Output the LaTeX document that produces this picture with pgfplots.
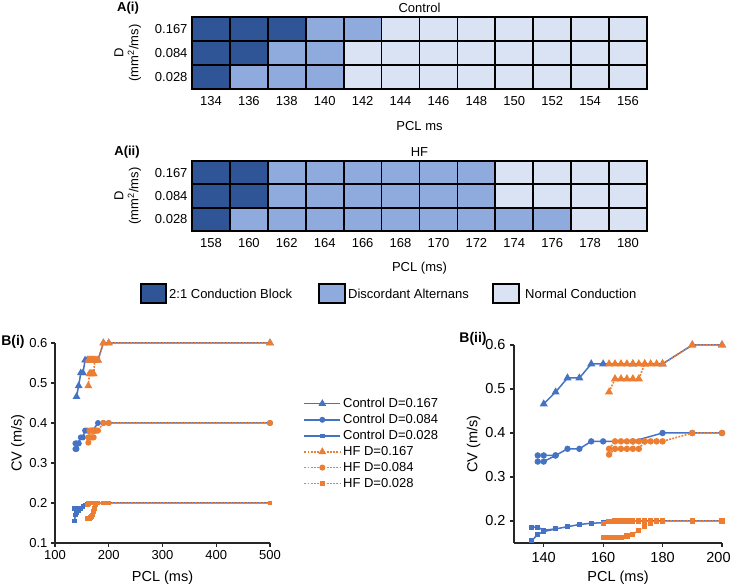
\documentclass[border=0pt]{standalone}
\usepackage{fontspec}
\setmainfont{Liberation Sans}
\usepackage{pgfplots}
\usepackage{pgfplotstable}
\pgfplotsset{compat=1.18}
\definecolor{cdark}{RGB}{47,85,151}
\definecolor{cmed}{RGB}{143,170,220}
\definecolor{clight}{RGB}{218,227,243}
\definecolor{cblue}{RGB}{68,114,196}
\definecolor{corange}{RGB}{237,125,49}
\newcommand\lf{\fontsize{13}{15}\selectfont}

% heatmap data: x = PCL index, y: 0 -> D=0.028, 1 -> 0.084, 2 -> 0.167
% c: 0 = 2:1 block, 1 = discordant alternans, 2 = normal
\pgfplotstableread{
x y c
0 0 0
1 0 1
2 0 1
3 0 1
4 0 2
5 0 2
6 0 2
7 0 2
8 0 2
9 0 2
10 0 2
11 0 2
0 1 0
1 1 0
2 1 1
3 1 1
4 1 2
5 1 2
6 1 2
7 1 2
8 1 2
9 1 2
10 1 2
11 1 2
0 2 0
1 2 0
2 2 0
3 2 1
4 2 1
5 2 2
6 2 2
7 2 2
8 2 2
9 2 2
10 2 2
11 2 2
}\ctrlmap
\pgfplotstableread{
x y c
0 0 0
1 0 1
2 0 1
3 0 1
4 0 1
5 0 1
6 0 1
7 0 1
8 0 1
9 0 1
10 0 2
11 0 2
0 1 0
1 1 0
2 1 1
3 1 1
4 1 1
5 1 1
6 1 1
7 1 1
8 1 2
9 1 2
10 1 2
11 1 2
0 2 0
1 2 0
2 2 1
3 2 1
4 2 1
5 2 1
6 2 1
7 2 1
8 2 2
9 2 2
10 2 2
11 2 2
}\hfmap

% CV restitution data
\pgfplotstableread{
x y
140 0.466
144 0.493
148 0.525
152 0.525
156 0.557
160 0.557
170 0.557
180 0.557
190 0.6
200 0.6
500 0.6
}\cA
\pgfplotstableread{
x y
138 0.349
140 0.349
144 0.349
148 0.364
152 0.364
156 0.381
160 0.381
170 0.381
180 0.4
190 0.4
200 0.4
500 0.4
}\cBa
\pgfplotstableread{
x y
138 0.335
140 0.335
144 0.349
}\cBb
\pgfplotstableread{
x y
136 0.186
138 0.186
140 0.179
144 0.182
148 0.187
152 0.192
156 0.195
160 0.196
170 0.2
180 0.2
190 0.2
200 0.2
500 0.2
}\cCa
\pgfplotstableread{
x y
136 0.155
138 0.170
140 0.176
144 0.182
}\cCb
\pgfplotstableread{
x y
162 0.557
164 0.557
166 0.557
168 0.557
170 0.557
172 0.557
174 0.557
176 0.557
178 0.557
180 0.557
190 0.6
200 0.6
500 0.6
}\hAa
\pgfplotstableread{
x y
162 0.493
164 0.523
166 0.523
168 0.523
170 0.523
172 0.523
174 0.557
}\hAb
\pgfplotstableread{
x y
162 0.364
164 0.381
166 0.381
168 0.381
170 0.381
172 0.381
174 0.381
176 0.381
178 0.381
180 0.381
190 0.4
200 0.4
500 0.4
}\hBa
\pgfplotstableread{
x y
162 0.351
164 0.364
166 0.364
168 0.364
170 0.364
172 0.364
174 0.381
}\hBb
\pgfplotstableread{
x y
160 0.195
162 0.199
164 0.2
166 0.2
168 0.2
170 0.2
172 0.2
174 0.2
176 0.2
178 0.2
180 0.2
190 0.2
200 0.2
500 0.2
}\hCa
\pgfplotstableread{
x y
160 0.162
162 0.162
164 0.162
166 0.163
168 0.166
170 0.170
172 0.179
174 0.187
176 0.195
178 0.2
}\hCb

\pgfplotsset{
  heat/.style={
    scale only axis, width=455pt, anchor=south west,
    xmin=-0.5, xmax=11.5, ymin=-0.5, ymax=2.5, enlargelimits=false,
    colormap={hm}{color=(cdark) color=(cmed) color=(clight)},
    point meta min=0, point meta max=2,
    xtick={0,...,11}, ytick={0,1,2}, yticklabels={0.028,0.084,0.167},
    minor xtick={0.5,1.5,...,10.5}, minor ytick={0.5,1.5},
    grid=minor,
    every minor grid/.style={black, line width=1.7pt},
    minor grid style={black, line width=1.7pt},
    major tick length=0pt, minor tick length=0pt,
    axis on top, axis line style={black, line width=1.8pt},
    /pgf/number format/assume math mode=true,
    ticklabel style={font=\lf},
    xticklabel style={yshift=-4pt},
    yticklabel style={xshift=-1pt},
    ylabel={D\\(mm\textsuperscript{2}/ms)},
    ylabel style={align=center, font=\lf, yshift=7pt},
    xlabel style={font=\lf, yshift=-9pt},
    title style={font=\lf, yshift=-5pt},
  },
  cvax/.style={
    scale only axis, anchor=south west,
    axis lines*=left, axis line style={black!85, line width=1.6pt},
    tick align=outside, major tick length=4pt,
    tick style={black!85, line width=1.2pt},
    xtick pos=bottom, ytick pos=left,
    /pgf/number format/assume math mode=true,
    /pgf/number format/fixed,
    clip=false,
  },
  ctl/.style={cblue, line width=1.5pt, solid},
  hf/.style={corange, line width=1.6pt, dash pattern=on 1.8pt off 1.4pt},
}

\begin{document}
\begin{tikzpicture}[x=1pt,y=1pt]
\path[use as bounding box] (0,0) rectangle (732,585);

% ---------- A(i) ----------
\begin{axis}[heat, at={(192pt,496pt)}, height=72pt,
  xticklabels={134,136,138,140,142,144,146,148,150,152,154,156},
  xlabel={PCL ms}, title={Control}]
\addplot[matrix plot*, mesh/cols=12, point meta=explicit] table[meta=c]{\ctrlmap};
\end{axis}
\node[font=\lf\bfseries] at (128,577) {A(i)};

% ---------- A(ii) ----------
\begin{axis}[heat, at={(192pt,354pt)}, height=70pt,
  xticklabels={158,160,162,164,166,168,170,172,174,176,178,180},
  xlabel={PCL (ms)}, title={HF}, xlabel style={yshift=1.5pt}]
\addplot[matrix plot*, mesh/cols=12, point meta=explicit] table[meta=c]{\hfmap};
\end{axis}
\node[font=\lf\bfseries] at (127,433) {A(ii)};

% heatmap legend
\begin{scope}[font=\lf]
\draw[black, line width=1.5pt, fill=cdark] (141,282) rectangle (166,301);
\node[anchor=west, inner sep=0pt] at (169,291) {2:1 Conduction Block};
\draw[black, line width=1.5pt, fill=cmed] (319,282) rectangle (345,301);
\node[anchor=west, inner sep=0pt] at (348,291) {Discordant Alternans};
\draw[black, line width=1.5pt, fill=clight] (493,282) rectangle (519,301);
\node[anchor=west, inner sep=0pt] at (525,291) {Normal Conduction};
\end{scope}

% ---------- B(i) ----------
\begin{axis}[cvax, at={(55pt,42pt)}, width=215pt, height=200pt,
  xmin=100, xmax=500, ymin=0.1, ymax=0.6,
  xtick={100,200,300,400,500}, ytick={0.1,0.2,0.3,0.4,0.5,0.6},
  yticklabels={0.1,0.2,0.3,0.4,0.5,0.6},
  ticklabel style={font=\fontsize{13}{15}\selectfont},
  xlabel={PCL (ms)}, ylabel={CV (m/s)},
  label style={font=\fontsize{14.5}{16}\selectfont},
  xlabel style={yshift=-4pt}, ylabel style={yshift=-2pt},
  legend style={at={(1.155,0.735)}, anchor=north west, draw=none, fill=none,
    inner sep=0pt, row sep=1.2pt,
    nodes={font=\lf, inner sep=2pt}},
  legend cell align=left,
  legend image code/.code={\draw[mark repeat=2,mark phase=2,#1] plot coordinates {(0pt,0pt) (18pt,0pt) (36pt,0pt)};},
]
\addplot[ctl, mark=triangle*, mark size=3pt, mark options={solid}] table{\cA};
\addlegendentry{\lf Control D=0.167}
\addplot[ctl, mark=*, mark size=2.2pt, mark options={solid}] table{\cBa};
\addlegendentry{\lf Control D=0.084}
\addplot[ctl, mark=square*, mark size=1.6pt, mark options={solid}] table{\cCa};
\addlegendentry{\lf Control D=0.028}
\addplot[ctl, mark=*, mark size=2.2pt, mark options={solid}, forget plot] table{\cBb};
\addplot[ctl, mark=square*, mark size=1.6pt, mark options={solid}, forget plot] table{\cCb};
\addplot[hf, mark=triangle*, mark size=3pt, mark options={solid}] table{\hAa};
\addlegendentry{\lf HF D=0.167}
\addplot[hf, mark=*, mark size=2.2pt, mark options={solid}] table{\hBa};
\addlegendentry{\lf HF D=0.084}
\addplot[hf, mark=square*, mark size=1.6pt, mark options={solid}] table{\hCa};
\addlegendentry{\lf HF D=0.028}
\addplot[hf, mark=triangle*, mark size=3pt, mark options={solid}, forget plot] table{\hAb};
\addplot[hf, mark=*, mark size=2.2pt, mark options={solid}, forget plot] table{\hBb};
\addplot[hf, mark=square*, mark size=1.6pt, mark options={solid}, forget plot] table{\hCb};
\end{axis}
\node[font=\fontsize{14}{16}\selectfont\bfseries] at (13,243) {B(i)};

% ---------- B(ii) ----------
\begin{axis}[cvax, at={(514pt,42pt)}, width=208pt, height=198pt,
  xmin=130, xmax=200, ymin=0.15, ymax=0.6,
  restrict x to domain=125:205,
  xtick={140,160,180,200}, ytick={0.2,0.3,0.4,0.5,0.6},
  xticklabels={140,160,180,{\hspace*{-7pt}200}},
  yticklabels={0.2,0.3,0.4,0.5,0.6},
  ticklabel style={font=\fontsize{14.5}{16}\selectfont},
  xticklabel style={yshift=-2pt}, yticklabel style={xshift=-1pt},
  xlabel={PCL (ms)}, ylabel={CV (m/s)},
  label style={font=\fontsize{14.5}{16}\selectfont},
  xlabel style={yshift=-1pt}, ylabel style={yshift=-2pt},
]
\addplot[ctl, mark=triangle*, mark size=3.2pt, mark options={solid}] table{\cA};
\addplot[ctl, mark=*, mark size=2.4pt, mark options={solid}] table{\cBa};
\addplot[ctl, mark=square*, mark size=1.8pt, mark options={solid}] table{\cCa};
\addplot[ctl, mark=*, mark size=2.4pt, mark options={solid}] table{\cBb};
\addplot[ctl, mark=square*, mark size=1.8pt, mark options={solid}] table{\cCb};
\addplot[hf, mark=triangle*, mark size=3.2pt, mark options={solid}] table{\hAa};
\addplot[hf, mark=*, mark size=2.4pt, mark options={solid}] table{\hBa};
\addplot[hf, mark=square*, mark size=1.8pt, mark options={solid}] table{\hCa};
\addplot[hf, mark=triangle*, mark size=3.2pt, mark options={solid}] table{\hAb};
\addplot[hf, mark=*, mark size=2.4pt, mark options={solid}] table{\hBb};
\addplot[hf, mark=square*, mark size=1.8pt, mark options={solid}] table{\hCb};
\end{axis}
\node[font=\fontsize{14}{16}\selectfont\bfseries] at (473,246) {B(ii)};
\end{tikzpicture}
\end{document}
